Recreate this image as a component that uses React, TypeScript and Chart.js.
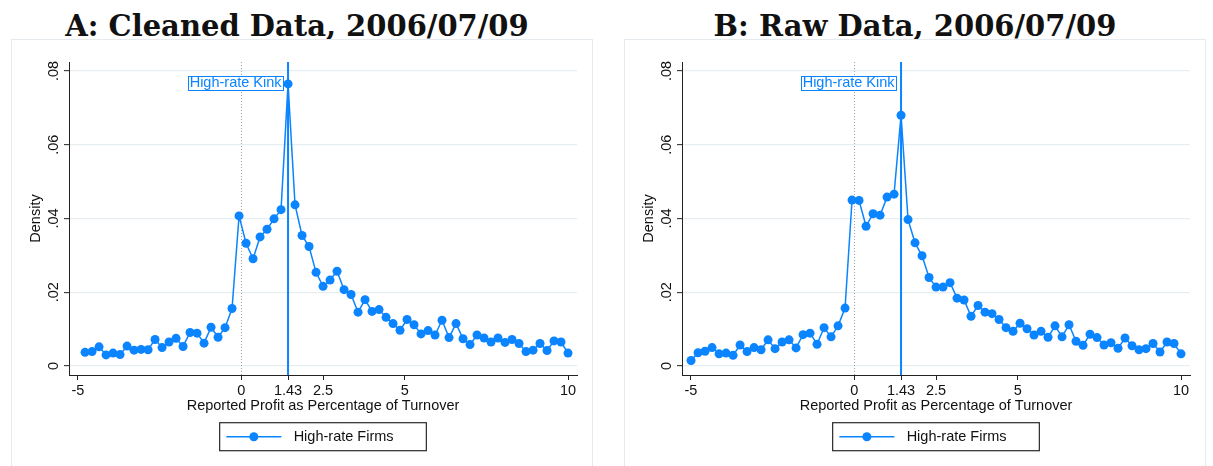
import React, { useEffect, useRef } from "react";
import { Chart, registerables } from "chart.js";

Chart.register(...registerables);

// ---------- data ----------
const BIN_WIDTH = 0.21425;
const KINK = 1.43;

const cleanedStartBin = -29;
const cleanedDensity = [
  0.0037, 0.0039, 0.0052, 0.003, 0.0035, 0.0031, 0.0054, 0.0043, 0.0045, 0.0044,
  0.0072, 0.005, 0.0065, 0.0075, 0.0053, 0.0091, 0.0089, 0.0062, 0.0105, 0.0078,
  0.0104, 0.0156, 0.0407, 0.0333, 0.0291, 0.035, 0.0371, 0.0399, 0.0424, 0.0765,
  0.0437, 0.0354, 0.0324, 0.0254, 0.0216, 0.0233, 0.0257, 0.0207, 0.0194, 0.0146,
  0.018, 0.0148, 0.0153, 0.0132, 0.0115, 0.0097, 0.0126, 0.0112, 0.0087, 0.0096,
  0.0084, 0.0124, 0.0077, 0.0115, 0.0074, 0.0058, 0.0084, 0.0076, 0.0065, 0.0076,
  0.0064, 0.0072, 0.0061, 0.0039, 0.0043, 0.0061, 0.0042, 0.0068, 0.0065, 0.0035,
];

const rawStartBin = -30;
const rawDensity = [
  0.0015, 0.0036, 0.004, 0.005, 0.0033, 0.0035, 0.0029, 0.0057, 0.0039, 0.005,
  0.0044, 0.0071, 0.0047, 0.0065, 0.0071, 0.0049, 0.0085, 0.0089, 0.0059, 0.0104,
  0.0079, 0.0109, 0.0157, 0.045, 0.0449, 0.0379, 0.0413, 0.0409, 0.0458, 0.0466,
  0.068, 0.0397, 0.0334, 0.0299, 0.024, 0.0214, 0.0214, 0.0226, 0.0184, 0.0179,
  0.0135, 0.0164, 0.0146, 0.0142, 0.0126, 0.0104, 0.0094, 0.0116, 0.0101, 0.0084,
  0.0094, 0.0078, 0.0109, 0.0079, 0.0112, 0.0067, 0.0056, 0.0086, 0.0077, 0.0057,
  0.0063, 0.0048, 0.0076, 0.0055, 0.0044, 0.0047, 0.0061, 0.0038, 0.0065, 0.0061,
  0.0033,
];

const xTickValues = [-5, 0, 1.43, 2.5, 5, 10];
const xTickLabels = ["-5", "0", "1.43", "2.5", "5", "10"];
const yTickValues = [0, 0.02, 0.04, 0.06, 0.08];
const yTickLabels = ["0", ".02", ".04", ".06", ".08"];

const xAxisTitle = "Reported Profit as Percentage of Turnover";
const yAxisTitle = "Density";
const seriesLabel = "High-rate Firms";
const kinkLabel = "High-rate Kink";

// ---------- styles ----------
const BLUE = "#0a84ff";
const SANS = "'Liberation Sans', Arial, Helvetica, sans-serif";
const FONT_SIZE = 14.5;
const CANVAS_W = 580;
const CANVAS_H = 426;

const overlayPlugin = {
  id: "stataOverlay",
  beforeDatasetsDraw(chart: any) {
    const { ctx, chartArea } = chart;
    const xs = chart.scales.x;
    ctx.save();
    // dotted line at 0
    const x0 = Math.round(xs.getPixelForValue(0)) + 0.5;
    ctx.strokeStyle = "#a0a0a0";
    ctx.lineWidth = 1;
    ctx.setLineDash([1, 2]);
    ctx.beginPath();
    ctx.moveTo(x0, chartArea.top);
    ctx.lineTo(x0, chartArea.bottom);
    ctx.stroke();
    // kink line
    ctx.setLineDash([]);
    const xk = xs.getPixelForValue(KINK);
    ctx.strokeStyle = BLUE;
    ctx.lineWidth = 2;
    ctx.beginPath();
    ctx.moveTo(xk, chartArea.top);
    ctx.lineTo(xk, chartArea.bottom);
    ctx.stroke();
    ctx.restore();
  },
  afterDraw(chart: any) {
    const { ctx, chartArea } = chart;
    const xs = chart.scales.x;
    const ys = chart.scales.y;
    const cx = (chartArea.left + chartArea.right) / 2;
    ctx.save();
    ctx.font = `${FONT_SIZE}px ${SANS}`;
    ctx.fillStyle = "#111";

    // rotated y tick labels
    yTickValues.forEach((v, i) => {
      const py = ys.getPixelForValue(v);
      ctx.save();
      ctx.translate(chartArea.left - 11.5, py);
      ctx.rotate(-Math.PI / 2);
      ctx.textAlign = "center";
      ctx.textBaseline = "alphabetic";
      ctx.fillText(yTickLabels[i], 0, 0);
      ctx.restore();
    });

    // y axis title
    ctx.save();
    ctx.translate(chartArea.left - 29.5, (chartArea.top + chartArea.bottom) / 2);
    ctx.rotate(-Math.PI / 2);
    ctx.textAlign = "center";
    ctx.textBaseline = "alphabetic";
    ctx.fillText(yAxisTitle, 0, 0);
    ctx.restore();

    // x axis title
    ctx.textAlign = "center";
    ctx.textBaseline = "middle";
    ctx.fillText(xAxisTitle, cx, chartArea.bottom + 30.7);

    // kink annotation
    const xk = xs.getPixelForValue(KINK);
    const ay = ys.getPixelForValue(0.0768);
    const tw = ctx.measureText(kinkLabel).width;
    const boxR = xk - 5;
    const boxL = boxR - tw - 3;
    ctx.fillStyle = "#ffffff";
    ctx.fillRect(boxL, ay - 7.2, boxR - boxL, 14.4);
    ctx.strokeStyle = BLUE;
    ctx.lineWidth = 1;
    ctx.strokeRect(Math.round(boxL) + 0.5, Math.round(ay - 7.2) + 0.5, Math.round(boxR - boxL), 14);
    ctx.fillStyle = BLUE;
    ctx.textAlign = "right";
    ctx.textBaseline = "middle";
    ctx.fillText(kinkLabel, boxR - 1.5, ay + 0.5);

    // legend
    const lw = 206.7;
    const lh = 28;
    const lx = cx - lw / 2;
    const ly = chartArea.bottom + 47.7;
    ctx.strokeStyle = "#2a2a2a";
    ctx.lineWidth = 1.2;
    ctx.strokeRect(lx, ly, lw, lh);
    ctx.strokeStyle = BLUE;
    ctx.lineWidth = 1.5;
    ctx.beginPath();
    ctx.moveTo(lx + 6.7, ly + lh / 2);
    ctx.lineTo(lx + 61.7, ly + lh / 2);
    ctx.stroke();
    ctx.fillStyle = BLUE;
    ctx.beginPath();
    ctx.arc(lx + 34.2, ly + lh / 2, 4.5, 0, Math.PI * 2);
    ctx.fill();
    ctx.fillStyle = "#111";
    ctx.textAlign = "left";
    ctx.textBaseline = "middle";
    ctx.fillText(seriesLabel, lx + 74, ly + lh / 2 + 0.5);

    ctx.restore();
  },
};

function Panel(props: { title: string; density: number[]; startBin: number; left: number; titleShift: number }) {
  const ref = useRef<HTMLCanvasElement | null>(null);

  useEffect(() => {
    if (!ref.current) return;
    const points = props.density.map((d, i) => ({
      x: KINK + (props.startBin + i) * BIN_WIDTH,
      y: d,
    }));
    const chart = new Chart(ref.current, {
      type: "line",
      data: {
        datasets: [
          {
            label: seriesLabel,
            data: points,
            borderColor: BLUE,
            backgroundColor: BLUE,
            borderWidth: 1.5,
            pointRadius: 4.5,
            pointBorderWidth: 0,
            pointBackgroundColor: BLUE,
            tension: 0,
            fill: false,
          },
        ],
      },
      options: {
        animation: false,
        responsive: false,
        maintainAspectRatio: false,
        events: [],
        layout: { padding: { left: 0, right: 15, top: 22, bottom: 0 } },
        plugins: {
          legend: { display: false },
          tooltip: { enabled: false },
          title: { display: false },
        },
        scales: {
          x: {
            type: "linear",
            min: -5.275,
            max: 10.275,
            afterBuildTicks: (s: any) => {
              s.ticks = xTickValues.map((v) => ({ value: v }));
            },
            afterFit: (s: any) => {
              s.height = 91;
            },
            ticks: {
              autoSkip: false,
              maxRotation: 0,
              minRotation: 0,
              padding: 2,
              color: "#111",
              font: { family: SANS, size: FONT_SIZE },
              callback: (v: any) => {
                const idx = xTickValues.indexOf(Number(v));
                return idx >= 0 ? xTickLabels[idx] : "";
              },
            },
            grid: {
              drawOnChartArea: false,
              drawTicks: true,
              tickLength: 5,
              tickColor: "#222",
              tickWidth: 1,
            },
            border: { display: true, color: "#222", width: 1 },
          },
          y: {
            type: "linear",
            min: -0.00244,
            max: 0.08244,
            afterBuildTicks: (s: any) => {
              s.ticks = yTickValues.map((v) => ({ value: v }));
            },
            afterFit: (s: any) => {
              s.width = 57;
            },
            ticks: { display: false },
            grid: {
              color: "#e6eef1",
              lineWidth: 1.3,
              drawTicks: true,
              tickLength: 5,
              tickColor: "#222",
              tickWidth: 1,
            },
            border: { display: true, color: "#222", width: 1 },
          },
        },
      },
      plugins: [overlayPlugin],
    } as any);
    return () => chart.destroy();
  }, []);

  return (
    <>
      <div
        style={{
          position: "absolute",
          left: props.left + props.titleShift,
          top: 8.5,
          width: CANVAS_W + 2,
          textAlign: "center",
          fontFamily: "'DejaVu Serif', serif",
          fontWeight: "bold",
          fontSize: 29,
          lineHeight: "34px",
          color: "#111",
          whiteSpace: "nowrap",
        }}
      >
        {props.title}
      </div>
      <div
        style={{
          position: "absolute",
          left: props.left,
          top: 39,
          width: CANVAS_W,
          height: 440,
          border: "1px solid #e4eaed",
          background: "#fff",
        }}
      >
        <canvas
          ref={ref}
          width={CANVAS_W}
          height={CANVAS_H}
          style={{ position: "absolute", left: 0, top: 0, width: CANVAS_W, height: CANVAS_H }}
        />
      </div>
    </>
  );
}

export default function App() {
  return (
    <div
      style={{
        position: "absolute",
        left: 0,
        top: 0,
        width: 1213,
        height: 466,
        overflow: "hidden",
        background: "#fff",
      }}
    >
      <Panel title="A: Cleaned Data, 2006/07/09" density={cleanedDensity} startBin={cleanedStartBin} left={11} titleShift={-5} />
      <Panel title="B: Raw Data, 2006/07/09" density={rawDensity} startBin={rawStartBin} left={624} titleShift={0} />
    </div>
  );
}
